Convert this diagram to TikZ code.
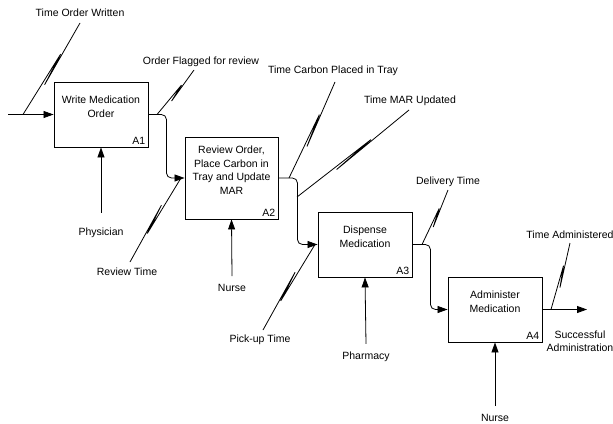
\documentclass[tikz,border=0pt]{standalone}
\usepackage{fontspec}
\setmainfont{Liberation Sans}
\usetikzlibrary{arrows.meta,calc,positioning}
% lightning-bolt tunnel line: #1 = end on the arrow, #2 = end at the label
\newcommand{\squig}[2]{%
  \draw[wire] (#1) -- ($(#1)!0.66!(#2)$)
    -- ($(#1)!0.34!(#2)!2.6pt!-90:(#2)$) -- (#2);}

\begin{document}
\begin{tikzpicture}[x=1pt,y=-1pt,
  wire/.style={line width=0.8pt},
  flow/.style={wire,rounded corners=5pt,-{Triangle[length=10pt,width=7pt]}},
  proc/.style={draw,line width=0.9pt,minimum width=94pt,minimum height=65pt,inner sep=0pt},
  lbl/.style={font=\fontsize{10.5}{13.5}\selectfont,align=center,inner sep=0pt}]
\useasboundingbox (0,0) rectangle (613,423);
% activity boxes
\node[proc] (a1) at (101,114.5) {};
\node[proc,minimum width=93pt,minimum height=82pt] (a2) at (231.5,178) {};
\node[proc] (a3) at (365,244.5) {};
\node[proc] (a4) at (495,309.5) {};
\node[lbl] (t1) at ([yshift=8pt]a1.center) {Write Medication\\Order};
\node[lbl] (t2) at ([yshift=8pt]a2.center) {Review Order,\\Place Carbon in\\Tray and Update\\MAR};
\node[lbl] (t3) at ([yshift=8pt]a3.center) {Dispense\\Medication};
\node[lbl] (t4) at ([yshift=8pt]a4.center) {Administer\\Medication};
\node[lbl,anchor=south east] (n1) at ([shift={(-3pt,3pt)}]a1.south east) {A1};
\node[lbl,anchor=south east] (n2) at ([shift={(-3pt,3pt)}]a2.south east) {A2};
\node[lbl,anchor=south east] (n3) at ([shift={(-3pt,3pt)}]a3.south east) {A3};
\node[lbl,anchor=south east] (n4) at ([shift={(-3pt,3pt)}]a4.south east) {A4};
% main flow
\coordinate (in) at (8,114.5);
\coordinate (out) at (587,309.5);
\draw[flow] (in) -- (a1.west);
\draw[flow] (a1.east) -- ++(18,0) |- (a2.west);
\draw[flow] (a2.east) -- ++(19,0) |- (a3.west);
\draw[flow] (a3.east) -- ++(18,0) |- (a4.west);
\draw[flow] (a4.east) -- (out);
\node[lbl] (res) at (580,341) {Successful\\Administration};
% mechanisms
\node[lbl] (m1) at (101,233) {Physician};
\node[lbl] (m2) at (232,288) {Nurse};
\node[lbl] (m3) at (366,357) {Pharmacy};
\node[lbl] (m4) at (495,418) {Nurse};
\draw[flow] ([yshift=15pt]m1.north) -- (a1.south);
\draw[flow] ([yshift=8pt]m2.north) -- (a2.south);
\draw[flow] ([yshift=8pt]m3.north) -- (a3.south);
\draw[flow] ([yshift=8pt]m4.north) -- (a4.south);
% time stamps
\node[lbl] (s1) at (80,13) {Time Order Written};
\node[lbl] (s2) at (201,62) {Order Flagged for review};
\node[lbl] (s3) at (333,71) {Time Carbon Placed in Tray};
\node[lbl] (s4) at (410,101) {Time MAR Updated};
\node[lbl] (s5) at (127,272) {Review Time};
\node[lbl] (s6) at (260,340) {Pick-up Time};
\node[lbl] (s7) at (448,182) {Delivery Time};
\node[lbl] (s8) at (570,235) {Time Administered};
\coordinate (s1a) at (23,114.5);   \coordinate (s1b) at (80,23);
\coordinate (s2a) at (157,114.5);  \coordinate (s2b) at (194,70);
\coordinate (s3a) at (289,178);    \coordinate (s3b) at (335,82);
\coordinate (s4a) at (297,197);    \coordinate (s4b) at (409,110);
\coordinate (s5a) at (181,178);    \coordinate (s5b) at (130,262);
\coordinate (s6a) at (315,244.5);  \coordinate (s6b) at (263,330);
\coordinate (s7a) at (422,244.5);  \coordinate (s7b) at (448,190);
\coordinate (s8a) at (551,309.5);  \coordinate (s8b) at (570,243);
\squig{s1a}{s1b}
\squig{s2a}{s2b}
\squig{s3a}{s3b}
\squig{s4a}{s4b}
\squig{s5a}{s5b}
\squig{s6a}{s6b}
\squig{s7a}{s7b}
\squig{s8a}{s8b}
\end{tikzpicture}
\end{document}
